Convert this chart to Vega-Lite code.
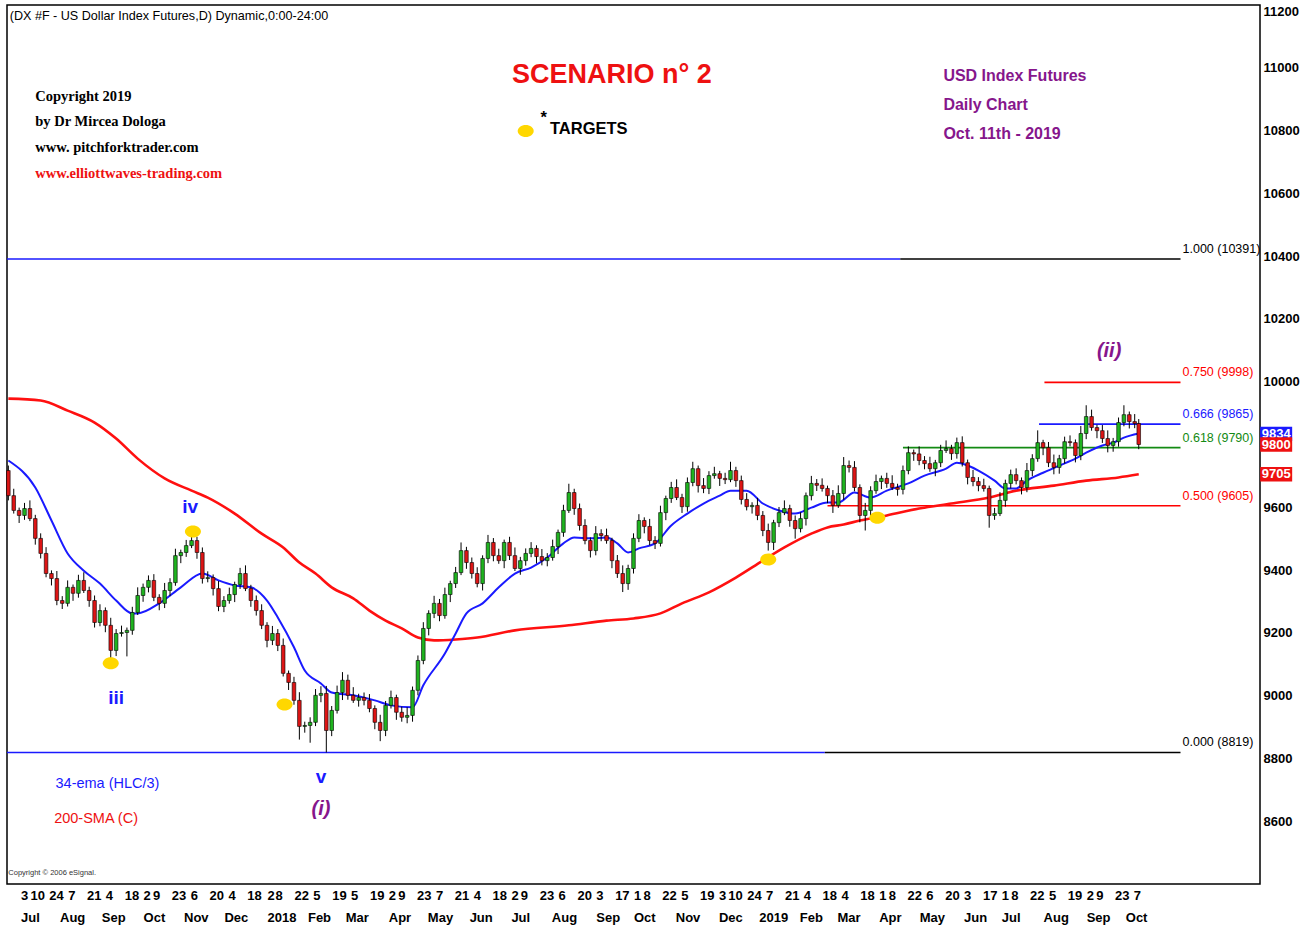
{
"$schema": "https://vega.github.io/schema/vega-lite/v6.json",
"width": 1253, "height": 879,
"autosize": {"type": "none"},
"padding": {"left": 7, "top": 5, "right": 48, "bottom": 47},
"background": "white",
"config": {"view": {"stroke": "black", "strokeWidth": 1.5}},
"resolve": {"axis": {"x": "independent", "y": "independent"}},
"datasets": {
"candles": [
{"t":"2017-06-24","o":9717,"h":9733,"l":9622,"c":9637},
{"t":"2017-06-28","o":9637,"h":9659,"l":9580,"c":9590},
{"t":"2017-07-02","o":9590,"h":9599,"l":9550,"c":9574},
{"t":"2017-07-06","o":9574,"h":9614,"l":9560,"c":9596},
{"t":"2017-07-10","o":9596,"h":9622,"l":9556,"c":9564},
{"t":"2017-07-14","o":9564,"h":9576,"l":9481,"c":9501},
{"t":"2017-07-18","o":9501,"h":9517,"l":9437,"c":9453},
{"t":"2017-07-22","o":9453,"h":9473,"l":9377,"c":9389},
{"t":"2017-07-26","o":9389,"h":9399,"l":9351,"c":9373},
{"t":"2017-07-30","o":9373,"h":9397,"l":9288,"c":9303},
{"t":"2017-08-03","o":9303,"h":9317,"l":9276,"c":9294},
{"t":"2017-08-07","o":9294,"h":9367,"l":9284,"c":9345},
{"t":"2017-08-11","o":9345,"h":9354,"l":9302,"c":9326},
{"t":"2017-08-15","o":9326,"h":9385,"l":9312,"c":9367},
{"t":"2017-08-19","o":9367,"h":9393,"l":9327,"c":9335},
{"t":"2017-08-23","o":9335,"h":9347,"l":9283,"c":9303},
{"t":"2017-08-27","o":9303,"h":9319,"l":9217,"c":9233},
{"t":"2017-08-31","o":9233,"h":9291,"l":9221,"c":9271},
{"t":"2017-09-04","o":9271,"h":9281,"l":9202,"c":9224},
{"t":"2017-09-08","o":9224,"h":9248,"l":9105,"c":9144},
{"t":"2017-09-12","o":9144,"h":9212,"l":9126,"c":9198},
{"t":"2017-09-16","o":9198,"h":9223,"l":9188,"c":9201},
{"t":"2017-09-20","o":9201,"h":9217,"l":9125,"c":9208},
{"t":"2017-09-24","o":9208,"h":9283,"l":9194,"c":9265},
{"t":"2017-09-28","o":9265,"h":9345,"l":9257,"c":9319},
{"t":"2017-10-02","o":9319,"h":9357,"l":9299,"c":9345},
{"t":"2017-10-06","o":9345,"h":9383,"l":9329,"c":9367},
{"t":"2017-10-10","o":9367,"h":9387,"l":9301,"c":9313},
{"t":"2017-10-14","o":9313,"h":9323,"l":9272,"c":9294},
{"t":"2017-10-18","o":9294,"h":9359,"l":9279,"c":9335},
{"t":"2017-10-22","o":9335,"h":9374,"l":9317,"c":9360},
{"t":"2017-10-26","o":9360,"h":9468,"l":9350,"c":9446},
{"t":"2017-10-30","o":9446,"h":9465,"l":9422,"c":9456},
{"t":"2017-11-03","o":9456,"h":9496,"l":9442,"c":9478},
{"t":"2017-11-07","o":9478,"h":9515,"l":9470,"c":9494},
{"t":"2017-11-11","o":9494,"h":9506,"l":9436,"c":9456},
{"t":"2017-11-15","o":9456,"h":9472,"l":9357,"c":9373},
{"t":"2017-11-19","o":9373,"h":9396,"l":9361,"c":9376},
{"t":"2017-11-23","o":9376,"h":9386,"l":9319,"c":9341},
{"t":"2017-11-27","o":9341,"h":9365,"l":9269,"c":9284},
{"t":"2017-12-01","o":9284,"h":9317,"l":9266,"c":9303},
{"t":"2017-12-05","o":9303,"h":9344,"l":9293,"c":9322},
{"t":"2017-12-09","o":9322,"h":9363,"l":9298,"c":9354},
{"t":"2017-12-13","o":9354,"h":9407,"l":9340,"c":9389},
{"t":"2017-12-17","o":9389,"h":9415,"l":9333,"c":9341},
{"t":"2017-12-21","o":9341,"h":9353,"l":9283,"c":9303},
{"t":"2017-12-25","o":9303,"h":9319,"l":9255,"c":9271},
{"t":"2017-12-29","o":9271,"h":9291,"l":9212,"c":9224},
{"t":"2018-01-02","o":9224,"h":9234,"l":9154,"c":9176},
{"t":"2018-01-06","o":9176,"h":9222,"l":9161,"c":9198},
{"t":"2018-01-10","o":9198,"h":9212,"l":9142,"c":9160},
{"t":"2018-01-14","o":9160,"h":9182,"l":9061,"c":9071},
{"t":"2018-01-18","o":9071,"h":9080,"l":9018,"c":9042},
{"t":"2018-01-22","o":9042,"h":9060,"l":8971,"c":8985},
{"t":"2018-01-26","o":8985,"h":9011,"l":8860,"c":8902},
{"t":"2018-01-30","o":8902,"h":8917,"l":8882,"c":8905},
{"t":"2018-02-03","o":8905,"h":8931,"l":8850,"c":8915},
{"t":"2018-02-07","o":8915,"h":9021,"l":8903,"c":9001},
{"t":"2018-02-11","o":9001,"h":9030,"l":8979,"c":9007},
{"t":"2018-02-15","o":9007,"h":9031,"l":8819,"c":8889},
{"t":"2018-02-19","o":8889,"h":8967,"l":8871,"c":8953},
{"t":"2018-02-23","o":8953,"h":9032,"l":8943,"c":9010},
{"t":"2018-02-27","o":9010,"h":9075,"l":8986,"c":9049},
{"t":"2018-03-03","o":9049,"h":9067,"l":8987,"c":9001},
{"t":"2018-03-07","o":9001,"h":9027,"l":8977,"c":8985},
{"t":"2018-03-11","o":8985,"h":9006,"l":8965,"c":8994},
{"t":"2018-03-15","o":8994,"h":9010,"l":8969,"c":8985},
{"t":"2018-03-19","o":8985,"h":9005,"l":8947,"c":8959},
{"t":"2018-03-23","o":8959,"h":8969,"l":8893,"c":8915},
{"t":"2018-03-27","o":8915,"h":8939,"l":8855,"c":8889},
{"t":"2018-03-31","o":8889,"h":8983,"l":8871,"c":8969},
{"t":"2018-04-04","o":8969,"h":9016,"l":8959,"c":8994},
{"t":"2018-04-08","o":8994,"h":9003,"l":8923,"c":8947},
{"t":"2018-04-12","o":8947,"h":8965,"l":8917,"c":8931},
{"t":"2018-04-16","o":8931,"h":8963,"l":8912,"c":8937},
{"t":"2018-04-20","o":8937,"h":9029,"l":8917,"c":9017},
{"t":"2018-04-24","o":9017,"h":9128,"l":9001,"c":9112},
{"t":"2018-04-28","o":9112,"h":9234,"l":9100,"c":9214},
{"t":"2018-05-02","o":9214,"h":9272,"l":9192,"c":9262},
{"t":"2018-05-06","o":9262,"h":9318,"l":9247,"c":9294},
{"t":"2018-05-10","o":9294,"h":9308,"l":9237,"c":9255},
{"t":"2018-05-14","o":9255,"h":9344,"l":9245,"c":9322},
{"t":"2018-05-18","o":9322,"h":9366,"l":9298,"c":9357},
{"t":"2018-05-22","o":9357,"h":9410,"l":9343,"c":9392},
{"t":"2018-05-26","o":9392,"h":9488,"l":9384,"c":9462},
{"t":"2018-05-30","o":9462,"h":9474,"l":9404,"c":9424},
{"t":"2018-06-03","o":9424,"h":9440,"l":9373,"c":9389},
{"t":"2018-06-07","o":9389,"h":9409,"l":9345,"c":9357},
{"t":"2018-06-11","o":9357,"h":9447,"l":9335,"c":9437},
{"t":"2018-06-15","o":9437,"h":9512,"l":9422,"c":9488},
{"t":"2018-06-19","o":9488,"h":9502,"l":9428,"c":9446},
{"t":"2018-06-23","o":9446,"h":9468,"l":9420,"c":9430},
{"t":"2018-06-27","o":9430,"h":9497,"l":9406,"c":9488},
{"t":"2018-07-01","o":9488,"h":9506,"l":9432,"c":9446},
{"t":"2018-07-05","o":9446,"h":9472,"l":9397,"c":9405},
{"t":"2018-07-09","o":9405,"h":9442,"l":9385,"c":9430},
{"t":"2018-07-13","o":9430,"h":9469,"l":9414,"c":9453},
{"t":"2018-07-17","o":9453,"h":9489,"l":9441,"c":9469},
{"t":"2018-07-21","o":9469,"h":9479,"l":9421,"c":9443},
{"t":"2018-07-25","o":9443,"h":9467,"l":9415,"c":9430},
{"t":"2018-07-29","o":9430,"h":9454,"l":9412,"c":9440},
{"t":"2018-08-02","o":9440,"h":9497,"l":9430,"c":9475},
{"t":"2018-08-06","o":9475,"h":9529,"l":9451,"c":9520},
{"t":"2018-08-10","o":9520,"h":9608,"l":9506,"c":9590},
{"t":"2018-08-14","o":9590,"h":9675,"l":9582,"c":9647},
{"t":"2018-08-18","o":9647,"h":9659,"l":9576,"c":9596},
{"t":"2018-08-22","o":9596,"h":9612,"l":9526,"c":9542},
{"t":"2018-08-26","o":9542,"h":9562,"l":9482,"c":9494},
{"t":"2018-08-30","o":9494,"h":9504,"l":9440,"c":9462},
{"t":"2018-09-03","o":9462,"h":9540,"l":9447,"c":9516},
{"t":"2018-09-07","o":9516,"h":9530,"l":9492,"c":9510},
{"t":"2018-09-11","o":9510,"h":9532,"l":9484,"c":9494},
{"t":"2018-09-15","o":9494,"h":9503,"l":9406,"c":9430},
{"t":"2018-09-19","o":9430,"h":9448,"l":9375,"c":9389},
{"t":"2018-09-23","o":9389,"h":9415,"l":9330,"c":9357},
{"t":"2018-09-27","o":9357,"h":9417,"l":9337,"c":9405},
{"t":"2018-10-01","o":9405,"h":9517,"l":9389,"c":9501},
{"t":"2018-10-05","o":9501,"h":9578,"l":9489,"c":9558},
{"t":"2018-10-09","o":9558,"h":9568,"l":9517,"c":9539},
{"t":"2018-10-13","o":9539,"h":9563,"l":9479,"c":9494},
{"t":"2018-10-17","o":9494,"h":9508,"l":9467,"c":9485},
{"t":"2018-10-21","o":9485,"h":9605,"l":9475,"c":9583},
{"t":"2018-10-25","o":9583,"h":9637,"l":9559,"c":9628},
{"t":"2018-10-29","o":9628,"h":9681,"l":9614,"c":9663},
{"t":"2018-11-02","o":9663,"h":9689,"l":9623,"c":9631},
{"t":"2018-11-06","o":9631,"h":9643,"l":9582,"c":9602},
{"t":"2018-11-10","o":9602,"h":9695,"l":9586,"c":9679},
{"t":"2018-11-14","o":9679,"h":9745,"l":9667,"c":9723},
{"t":"2018-11-18","o":9723,"h":9733,"l":9647,"c":9669},
{"t":"2018-11-22","o":9669,"h":9693,"l":9645,"c":9660},
{"t":"2018-11-26","o":9660,"h":9715,"l":9642,"c":9701},
{"t":"2018-11-30","o":9701,"h":9729,"l":9691,"c":9707},
{"t":"2018-12-04","o":9707,"h":9716,"l":9668,"c":9692},
{"t":"2018-12-08","o":9692,"h":9710,"l":9674,"c":9688},
{"t":"2018-12-12","o":9688,"h":9745,"l":9680,"c":9717},
{"t":"2018-12-16","o":9717,"h":9729,"l":9665,"c":9685},
{"t":"2018-12-20","o":9685,"h":9701,"l":9609,"c":9625},
{"t":"2018-12-24","o":9625,"h":9645,"l":9590,"c":9602},
{"t":"2018-12-28","o":9602,"h":9616,"l":9580,"c":9606},
{"t":"2019-01-01","o":9606,"h":9630,"l":9559,"c":9574},
{"t":"2019-01-05","o":9574,"h":9588,"l":9508,"c":9526},
{"t":"2019-01-09","o":9526,"h":9548,"l":9462,"c":9488},
{"t":"2019-01-13","o":9488,"h":9560,"l":9464,"c":9551},
{"t":"2019-01-17","o":9551,"h":9601,"l":9537,"c":9583},
{"t":"2019-01-21","o":9583,"h":9622,"l":9575,"c":9596},
{"t":"2019-01-25","o":9596,"h":9608,"l":9538,"c":9558},
{"t":"2019-01-29","o":9558,"h":9574,"l":9500,"c":9532},
{"t":"2019-02-02","o":9532,"h":9584,"l":9520,"c":9564},
{"t":"2019-02-06","o":9564,"h":9647,"l":9542,"c":9637},
{"t":"2019-02-10","o":9637,"h":9700,"l":9622,"c":9676},
{"t":"2019-02-14","o":9676,"h":9690,"l":9652,"c":9670},
{"t":"2019-02-18","o":9670,"h":9692,"l":9650,"c":9660},
{"t":"2019-02-22","o":9660,"h":9669,"l":9613,"c":9637},
{"t":"2019-02-26","o":9637,"h":9655,"l":9582,"c":9606},
{"t":"2019-03-02","o":9606,"h":9670,"l":9598,"c":9644},
{"t":"2019-03-06","o":9644,"h":9760,"l":9624,"c":9733},
{"t":"2019-03-10","o":9733,"h":9749,"l":9711,"c":9727},
{"t":"2019-03-14","o":9727,"h":9747,"l":9651,"c":9663},
{"t":"2019-03-18","o":9663,"h":9673,"l":9552,"c":9574},
{"t":"2019-03-22","o":9574,"h":9614,"l":9526,"c":9590},
{"t":"2019-03-26","o":9590,"h":9667,"l":9572,"c":9653},
{"t":"2019-03-30","o":9653,"h":9704,"l":9643,"c":9682},
{"t":"2019-04-03","o":9682,"h":9701,"l":9658,"c":9692},
{"t":"2019-04-07","o":9692,"h":9710,"l":9662,"c":9676},
{"t":"2019-04-11","o":9676,"h":9702,"l":9655,"c":9663},
{"t":"2019-04-15","o":9663,"h":9675,"l":9637,"c":9657},
{"t":"2019-04-19","o":9657,"h":9733,"l":9641,"c":9717},
{"t":"2019-04-23","o":9717,"h":9794,"l":9705,"c":9774},
{"t":"2019-04-27","o":9774,"h":9784,"l":9748,"c":9770},
{"t":"2019-05-01","o":9770,"h":9794,"l":9734,"c":9749},
{"t":"2019-05-05","o":9749,"h":9763,"l":9721,"c":9739},
{"t":"2019-05-09","o":9739,"h":9761,"l":9713,"c":9723},
{"t":"2019-05-13","o":9723,"h":9751,"l":9699,"c":9742},
{"t":"2019-05-17","o":9742,"h":9799,"l":9728,"c":9781},
{"t":"2019-05-21","o":9781,"h":9813,"l":9773,"c":9787},
{"t":"2019-05-25","o":9787,"h":9799,"l":9751,"c":9771},
{"t":"2019-05-29","o":9771,"h":9822,"l":9755,"c":9806},
{"t":"2019-06-02","o":9806,"h":9826,"l":9730,"c":9742},
{"t":"2019-06-06","o":9742,"h":9752,"l":9673,"c":9695},
{"t":"2019-06-10","o":9695,"h":9719,"l":9667,"c":9682},
{"t":"2019-06-14","o":9682,"h":9696,"l":9651,"c":9669},
{"t":"2019-06-18","o":9669,"h":9691,"l":9650,"c":9660},
{"t":"2019-06-22","o":9660,"h":9669,"l":9535,"c":9574},
{"t":"2019-06-26","o":9574,"h":9598,"l":9560,"c":9580},
{"t":"2019-06-30","o":9580,"h":9648,"l":9572,"c":9622},
{"t":"2019-07-04","o":9622,"h":9688,"l":9602,"c":9676},
{"t":"2019-07-08","o":9676,"h":9720,"l":9660,"c":9704},
{"t":"2019-07-12","o":9704,"h":9724,"l":9673,"c":9685},
{"t":"2019-07-16","o":9685,"h":9695,"l":9641,"c":9663},
{"t":"2019-07-20","o":9663,"h":9741,"l":9648,"c":9717},
{"t":"2019-07-24","o":9717,"h":9769,"l":9699,"c":9755},
{"t":"2019-07-28","o":9755,"h":9845,"l":9745,"c":9806},
{"t":"2019-08-01","o":9806,"h":9815,"l":9766,"c":9790},
{"t":"2019-08-05","o":9790,"h":9808,"l":9728,"c":9742},
{"t":"2019-08-09","o":9742,"h":9768,"l":9705,"c":9727},
{"t":"2019-08-13","o":9727,"h":9767,"l":9707,"c":9755},
{"t":"2019-08-17","o":9755,"h":9825,"l":9739,"c":9809},
{"t":"2019-08-21","o":9809,"h":9829,"l":9794,"c":9806},
{"t":"2019-08-25","o":9806,"h":9816,"l":9743,"c":9765},
{"t":"2019-08-29","o":9765,"h":9859,"l":9750,"c":9835},
{"t":"2019-09-02","o":9835,"h":9925,"l":9817,"c":9889},
{"t":"2019-09-06","o":9889,"h":9911,"l":9844,"c":9854},
{"t":"2019-09-10","o":9854,"h":9863,"l":9820,"c":9844},
{"t":"2019-09-14","o":9844,"h":9862,"l":9805,"c":9819},
{"t":"2019-09-18","o":9819,"h":9845,"l":9775,"c":9797},
{"t":"2019-09-22","o":9797,"h":9821,"l":9777,"c":9809},
{"t":"2019-09-26","o":9809,"h":9886,"l":9793,"c":9870},
{"t":"2019-09-30","o":9870,"h":9925,"l":9858,"c":9895},
{"t":"2019-10-04","o":9895,"h":9905,"l":9851,"c":9873},
{"t":"2019-10-08","o":9873,"h":9897,"l":9852,"c":9867},
{"t":"2019-10-11","o":9867,"h":9881,"l":9785,"c":9800}
]
},
"layer": [
{
"data": {"values": [
{"a":"2017-06-23","b":"2019-04-17","p":10391,"k":"base"},
{"a":"2019-04-17","b":"2019-11-11","p":10391,"k":"level"},
{"a":"2017-06-23","b":"2019-02-20","p":8819,"k":"base"},
{"a":"2019-02-20","b":"2019-11-11","p":8819,"k":"level"},
{"a":"2019-08-02","b":"2019-11-11","p":9998,"k":"0.750"},
{"a":"2019-07-29","b":"2019-11-11","p":9865,"k":"0.666"},
{"a":"2019-04-19","b":"2019-11-11","p":9790,"k":"0.618"},
{"a":"2019-02-22","b":"2019-11-11","p":9605,"k":"0.500"}
]},
"mark": {"type": "rule", "strokeWidth": 1.6},
"encoding": {
"x": {"field": "a", "type": "temporal", "axis": null, "scale": {"type": "utc", "padding": 0, "domain": [{"year":2017,"month":6,"date":23,"utc":true},{"year":2020,"month":1,"date":9,"utc":true}]}},
"x2": {"field": "b"},
"y": {"field": "p", "type": "quantitative", "axis": null, "scale": {"domain": [8400, 11200], "nice": false, "zero": false, "padding": 0}},
"color": {"field": "k", "type": "nominal", "legend": null, "scale": {"domain": ["base","level","0.750","0.666","0.618","0.500","ema","close","sma"], "range": ["#1a1aff","#000000","#ff0000","#1a1aff","#138a13","#ff0000","#1a1aff","#ee1111","#ee1111"]}}
}
},
{
"data": {"values": [
{"p":10391,"s":"1.000 (10391)","k":"level"},
{"p":9998,"s":"0.750 (9998)","k":"0.750"},
{"p":9865,"s":"0.666 (9865)","k":"0.666"},
{"p":9790,"s":"0.618 (9790)","k":"0.618"},
{"p":9605,"s":"0.500 (9605)","k":"0.500"},
{"p":8819,"s":"0.000 (8819)","k":"level"}
]},
"mark": {"type": "text", "align": "left", "baseline": "bottom", "dy": -3, "dx": 2, "font": "Liberation Sans", "fontSize": 12.5},
"encoding": {
"x": {"datum": {"year":2019,"month":11,"date":11,"utc":true}, "type": "temporal", "axis": null},
"y": {"field": "p", "type": "quantitative", "axis": null},
"text": {"field": "s"},
"color": {"field": "k", "type": "nominal", "legend": null, "scale": {"domain": ["base","level","0.750","0.666","0.618","0.500","ema","close","sma"], "range": ["#1a1aff","#000000","#ff0000","#1a1aff","#138a13","#ff0000","#1a1aff","#ee1111","#ee1111"]}}
}
},
{
"data": {"values": [
{"t":"2017-06-24","v":9946},{"t":"2017-07-18","v":9940},{"t":"2017-08-07","v":9908},{"t":"2017-08-27","v":9870},{"t":"2017-09-12","v":9819},{"t":"2017-09-28","v":9755},{"t":"2017-10-18","v":9692},{"t":"2017-11-07","v":9653},{"t":"2017-11-19","v":9631},{"t":"2017-12-09","v":9580},{"t":"2017-12-29","v":9516},{"t":"2018-01-14","v":9472},{"t":"2018-01-26","v":9424},{"t":"2018-02-07","v":9389},{"t":"2018-02-19","v":9345},{"t":"2018-03-07","v":9310},{"t":"2018-03-19","v":9271},{"t":"2018-03-31","v":9239},{"t":"2018-04-12","v":9214},{"t":"2018-04-24","v":9185},{"t":"2018-05-06","v":9176},{"t":"2018-05-22","v":9179},{"t":"2018-06-07","v":9185},{"t":"2018-07-05","v":9208},{"t":"2018-08-14","v":9224},{"t":"2018-09-11","v":9239},{"t":"2018-10-01","v":9246},{"t":"2018-10-21","v":9262},{"t":"2018-11-06","v":9294},{"t":"2018-11-26","v":9329},{"t":"2018-12-16","v":9376},{"t":"2019-01-05","v":9430},{"t":"2019-01-21","v":9472},{"t":"2019-02-10","v":9516},{"t":"2019-02-22","v":9536},{"t":"2019-03-06","v":9545},{"t":"2019-03-18","v":9558},{"t":"2019-04-07","v":9574},{"t":"2019-05-01","v":9596},{"t":"2019-05-25","v":9612},{"t":"2019-06-22","v":9631},{"t":"2019-07-12","v":9653},{"t":"2019-08-09","v":9669},{"t":"2019-09-02","v":9685},{"t":"2019-09-26","v":9695},{"t":"2019-10-11","v":9705}
]},
"mark": {"type": "line", "color": "#ff1010", "strokeWidth": 2.6, "interpolate": "monotone"},
"encoding": {
"x": {"field": "t", "type": "temporal", "axis": null},
"y": {"field": "v", "type": "quantitative", "axis": null}
}
},
{
"data": {"values": [
{"t":"2017-06-24","v":9749},{"t":"2017-07-14","v":9663},{"t":"2017-07-26","v":9558},{"t":"2017-08-07","v":9453},{"t":"2017-08-19","v":9398},{"t":"2017-08-31","v":9357},{"t":"2017-09-12","v":9303},{"t":"2017-09-24","v":9262},{"t":"2017-09-28","v":9262},{"t":"2017-10-14","v":9294},{"t":"2017-10-30","v":9345},{"t":"2017-11-15","v":9389},{"t":"2017-11-27","v":9367},{"t":"2017-12-09","v":9351},{"t":"2017-12-21","v":9345},{"t":"2018-01-02","v":9303},{"t":"2018-01-10","v":9249},{"t":"2018-01-22","v":9154},{"t":"2018-01-30","v":9080},{"t":"2018-02-11","v":9039},{"t":"2018-02-19","v":9010},{"t":"2018-03-07","v":9001},{"t":"2018-03-23","v":8985},{"t":"2018-04-04","v":8969},{"t":"2018-04-20","v":8963},{"t":"2018-04-28","v":9033},{"t":"2018-05-14","v":9134},{"t":"2018-05-22","v":9198},{"t":"2018-05-30","v":9262},{"t":"2018-06-11","v":9294},{"t":"2018-06-23","v":9345},{"t":"2018-07-05","v":9389},{"t":"2018-07-17","v":9408},{"t":"2018-07-29","v":9440},{"t":"2018-08-10","v":9485},{"t":"2018-08-18","v":9504},{"t":"2018-08-30","v":9501},{"t":"2018-09-11","v":9504},{"t":"2018-09-19","v":9485},{"t":"2018-09-27","v":9456},{"t":"2018-10-05","v":9469},{"t":"2018-10-17","v":9485},{"t":"2018-10-29","v":9542},{"t":"2018-11-10","v":9580},{"t":"2018-11-22","v":9612},{"t":"2018-12-04","v":9637},{"t":"2018-12-12","v":9653},{"t":"2018-12-24","v":9653},{"t":"2019-01-05","v":9612},{"t":"2019-01-17","v":9590},{"t":"2019-01-29","v":9580},{"t":"2019-02-10","v":9599},{"t":"2019-02-22","v":9615},{"t":"2019-03-02","v":9615},{"t":"2019-03-14","v":9647},{"t":"2019-03-26","v":9631},{"t":"2019-04-07","v":9653},{"t":"2019-04-23","v":9676},{"t":"2019-05-05","v":9701},{"t":"2019-05-21","v":9723},{"t":"2019-05-29","v":9742},{"t":"2019-06-06","v":9733},{"t":"2019-06-14","v":9717},{"t":"2019-06-26","v":9685},{"t":"2019-07-04","v":9660},{"t":"2019-07-12","v":9660},{"t":"2019-07-20","v":9685},{"t":"2019-08-01","v":9710},{"t":"2019-08-13","v":9733},{"t":"2019-08-25","v":9755},{"t":"2019-09-02","v":9774},{"t":"2019-09-14","v":9797},{"t":"2019-09-22","v":9806},{"t":"2019-09-30","v":9822},{"t":"2019-10-11","v":9835}
]},
"mark": {"type": "line", "color": "#1a1aff", "strokeWidth": 2, "interpolate": "monotone"},
"encoding": {
"x": {"field": "t", "type": "temporal", "axis": null},
"y": {"field": "v", "type": "quantitative", "axis": null}
}
},
{
"data": {"name": "candles"},
"mark": {"type": "rule", "color": "black", "strokeWidth": 1},
"encoding": {
"x": {"field": "t", "type": "temporal", "axis": {"orient": "bottom", "title": null, "format": "%-d", "ticks": false, "domain": false, "grid": false, "labelAlign": "left", "labelBaseline": "top", "labelPadding": 5, "labelFont": "Liberation Sans", "labelFontWeight": "bold", "labelFontSize": 13, "labelColor": "black", "labelOverlap": false, "labelFlush": false, "labelBound": false,
"values": [{"year":2017,"month":7,"date":3,"utc":true},{"year":2017,"month":7,"date":10,"utc":true},{"year":2017,"month":7,"date":24,"utc":true},{"year":2017,"month":8,"date":7,"utc":true},{"year":2017,"month":8,"date":21,"utc":true},{"year":2017,"month":9,"date":4,"utc":true},{"year":2017,"month":9,"date":18,"utc":true},{"year":2017,"month":10,"date":2,"utc":true},{"year":2017,"month":10,"date":9,"utc":true},{"year":2017,"month":10,"date":23,"utc":true},{"year":2017,"month":11,"date":6,"utc":true},{"year":2017,"month":11,"date":20,"utc":true},{"year":2017,"month":12,"date":4,"utc":true},{"year":2017,"month":12,"date":18,"utc":true},
{"year":2018,"month":1,"date":2,"utc":true},{"year":2018,"month":1,"date":8,"utc":true},{"year":2018,"month":1,"date":22,"utc":true},{"year":2018,"month":2,"date":5,"utc":true},{"year":2018,"month":2,"date":19,"utc":true},{"year":2018,"month":3,"date":5,"utc":true},{"year":2018,"month":3,"date":19,"utc":true},{"year":2018,"month":4,"date":2,"utc":true},{"year":2018,"month":4,"date":9,"utc":true},{"year":2018,"month":4,"date":23,"utc":true},{"year":2018,"month":5,"date":7,"utc":true},{"year":2018,"month":5,"date":21,"utc":true},{"year":2018,"month":6,"date":4,"utc":true},{"year":2018,"month":6,"date":18,"utc":true},{"year":2018,"month":7,"date":2,"utc":true},{"year":2018,"month":7,"date":9,"utc":true},{"year":2018,"month":7,"date":23,"utc":true},{"year":2018,"month":8,"date":6,"utc":true},{"year":2018,"month":8,"date":20,"utc":true},{"year":2018,"month":9,"date":3,"utc":true},{"year":2018,"month":9,"date":17,"utc":true},{"year":2018,"month":10,"date":1,"utc":true},{"year":2018,"month":10,"date":8,"utc":true},{"year":2018,"month":10,"date":22,"utc":true},{"year":2018,"month":11,"date":5,"utc":true},{"year":2018,"month":11,"date":19,"utc":true},{"year":2018,"month":12,"date":3,"utc":true},{"year":2018,"month":12,"date":10,"utc":true},{"year":2018,"month":12,"date":24,"utc":true},
{"year":2019,"month":1,"date":7,"utc":true},{"year":2019,"month":1,"date":21,"utc":true},{"year":2019,"month":2,"date":4,"utc":true},{"year":2019,"month":2,"date":18,"utc":true},{"year":2019,"month":3,"date":4,"utc":true},{"year":2019,"month":3,"date":18,"utc":true},{"year":2019,"month":4,"date":1,"utc":true},{"year":2019,"month":4,"date":8,"utc":true},{"year":2019,"month":4,"date":22,"utc":true},{"year":2019,"month":5,"date":6,"utc":true},{"year":2019,"month":5,"date":20,"utc":true},{"year":2019,"month":6,"date":3,"utc":true},{"year":2019,"month":6,"date":17,"utc":true},{"year":2019,"month":7,"date":1,"utc":true},{"year":2019,"month":7,"date":8,"utc":true},{"year":2019,"month":7,"date":22,"utc":true},{"year":2019,"month":8,"date":5,"utc":true},{"year":2019,"month":8,"date":19,"utc":true},{"year":2019,"month":9,"date":2,"utc":true},{"year":2019,"month":9,"date":9,"utc":true},{"year":2019,"month":9,"date":23,"utc":true},{"year":2019,"month":10,"date":7,"utc":true}]}},
"y": {"field": "l", "type": "quantitative", "axis": {"orient": "right", "title": null, "values": [8600,8800,9000,9200,9400,9600,10000,10200,10400,10600,10800,11000,11200], "format": "d", "ticks": false, "domain": false, "grid": false, "labelAlign": "left", "labelPadding": 3, "labelFont": "Liberation Sans", "labelFontWeight": "bold", "labelFontSize": 13, "labelColor": "black", "labelFlush": true, "labelOverlap": false}},
"y2": {"field": "h"}
}
},
{
"data": {"name": "candles"},
"mark": {"type": "bar", "width": 3.6, "stroke": "black", "strokeWidth": 0.6},
"encoding": {
"x": {"field": "t", "type": "temporal", "axis": {"orient": "bottom", "offset": 22, "title": null, "ticks": false, "domain": false, "grid": false, "labelAlign": "left", "labelBaseline": "top", "labelPadding": 5, "labelFont": "Liberation Sans", "labelFontWeight": "bold", "labelFontSize": 13, "labelColor": "black", "labelOverlap": false, "labelFlush": false, "labelBound": false,
"labelExpr": "utcmonth(datum.value) == 0 ? utcFormat(datum.value, '%Y') : utcFormat(datum.value, '%b')",
"values": [{"year":2017,"month":7,"date":3,"utc":true},{"year":2017,"month":8,"date":1,"utc":true},{"year":2017,"month":9,"date":1,"utc":true},{"year":2017,"month":10,"date":2,"utc":true},{"year":2017,"month":11,"date":1,"utc":true},{"year":2017,"month":12,"date":1,"utc":true},{"year":2018,"month":1,"date":2,"utc":true},{"year":2018,"month":2,"date":1,"utc":true},{"year":2018,"month":3,"date":1,"utc":true},{"year":2018,"month":4,"date":2,"utc":true},{"year":2018,"month":5,"date":1,"utc":true},{"year":2018,"month":6,"date":1,"utc":true},{"year":2018,"month":7,"date":2,"utc":true},{"year":2018,"month":8,"date":1,"utc":true},{"year":2018,"month":9,"date":3,"utc":true},{"year":2018,"month":10,"date":1,"utc":true},{"year":2018,"month":11,"date":1,"utc":true},{"year":2018,"month":12,"date":3,"utc":true},{"year":2019,"month":1,"date":2,"utc":true},{"year":2019,"month":2,"date":1,"utc":true},{"year":2019,"month":3,"date":1,"utc":true},{"year":2019,"month":4,"date":1,"utc":true},{"year":2019,"month":5,"date":1,"utc":true},{"year":2019,"month":6,"date":3,"utc":true},{"year":2019,"month":7,"date":1,"utc":true},{"year":2019,"month":8,"date":1,"utc":true},{"year":2019,"month":9,"date":2,"utc":true},{"year":2019,"month":10,"date":1,"utc":true}]}},
"y": {"field": "o", "type": "quantitative", "axis": null},
"y2": {"field": "c"},
"fill": {"condition": {"test": "datum.c > datum.o", "value": "#1fb31f"}, "value": "#dd1515"}
}
},
{
"data": {"values": [
{"t":"2017-09-08","p":9103},{"t":"2017-11-08","p":9523},{"t":"2018-01-15","p":8972},{"t":"2019-01-09","p":9434},{"t":"2019-03-31","p":9567},{"t":"2018-07-13","p":10799}
]},
"mark": {"type": "point", "shape": "M-1,0A1,0.75 0 1,0 1,0A1,0.75 0 1,0 -1,0Z", "size": 256, "filled": true, "fill": "#ffd700", "opacity": 1, "strokeWidth": 0},
"encoding": {
"x": {"field": "t", "type": "temporal", "axis": null},
"y": {"field": "p", "type": "quantitative", "axis": null}
}
},
{
"data": {"values": [{"t":"2017-06-25","p":11165,"s":"(DX #F - US Dollar Index Futures,D) Dynamic,0:00-24:00"}]},
"mark": {"type": "text", "align": "left", "baseline": "middle", "font": "Liberation Sans", "fontSize": 12.6, "fill": "black"},
"encoding": {"x": {"field": "t", "type": "temporal", "axis": null}, "y": {"field": "p", "type": "quantitative", "axis": null}, "text": {"field": "s"}}
},
{
"data": {"values": [{"t":"2017-07-14","p":10907,"s":"Copyright 2019"},{"t":"2017-07-14","p":10828,"s":"by Dr Mircea Dologa"},{"t":"2017-07-14","p":10745,"s":"www. pitchforktrader.com"}]},
"mark": {"type": "text", "align": "left", "baseline": "middle", "font": "Liberation Serif", "fontWeight": "bold", "fontSize": 14.5, "fill": "black"},
"encoding": {"x": {"field": "t", "type": "temporal", "axis": null}, "y": {"field": "p", "type": "quantitative", "axis": null}, "text": {"field": "s"}}
},
{
"data": {"values": [{"t":"2017-07-14","p":10662,"s":"www.elliottwaves-trading.com"}]},
"mark": {"type": "text", "align": "left", "baseline": "middle", "font": "Liberation Serif", "fontWeight": "bold", "fontSize": 14.5, "fill": "#ee1111"},
"encoding": {"x": {"field": "t", "type": "temporal", "axis": null}, "y": {"field": "p", "type": "quantitative", "axis": null}, "text": {"field": "s"}}
},
{
"data": {"values": [{"t":"2018-09-15","p":10977,"s":"SCENARIO n° 2"}]},
"mark": {"type": "text", "align": "center", "baseline": "middle", "font": "Liberation Sans", "fontWeight": "bold", "fontSize": 27, "fill": "#ee1111"},
"encoding": {"x": {"field": "t", "type": "temporal", "axis": null}, "y": {"field": "p", "type": "quantitative", "axis": null}, "text": {"field": "s"}}
},
{
"data": {"values": [{"t":"2018-07-31","p":10806,"s":"TARGETS"},{"t":"2018-07-24","p":10840,"s":"*"}]},
"mark": {"type": "text", "align": "left", "baseline": "middle", "font": "Liberation Sans", "fontWeight": "bold", "fontSize": 16.5, "fill": "black"},
"encoding": {"x": {"field": "t", "type": "temporal", "axis": null}, "y": {"field": "p", "type": "quantitative", "axis": null}, "text": {"field": "s"}}
},
{
"data": {"values": [{"t":"2019-05-19","p":10974,"s":"USD Index Futures"},{"t":"2019-05-19","p":10882,"s":"Daily Chart"},{"t":"2019-05-19","p":10789,"s":"Oct. 11th - 2019"}]},
"mark": {"type": "text", "align": "left", "baseline": "middle", "font": "Liberation Sans", "fontWeight": "bold", "fontSize": 16, "fill": "#86168c"},
"encoding": {"x": {"field": "t", "type": "temporal", "axis": null}, "y": {"field": "p", "type": "quantitative", "axis": null}, "text": {"field": "s"}}
},
{
"data": {"values": [{"t":"2017-11-06","p":9602,"s":"iv"},{"t":"2017-09-12","p":8991,"s":"iii"},{"t":"2018-02-11","p":8740,"s":"v"}]},
"mark": {"type": "text", "align": "center", "baseline": "middle", "font": "Liberation Sans", "fontWeight": "bold", "fontSize": 19, "fill": "#1a1aff"},
"encoding": {"x": {"field": "t", "type": "temporal", "axis": null}, "y": {"field": "p", "type": "quantitative", "axis": null}, "text": {"field": "s"}}
},
{
"data": {"values": [{"t":"2018-02-11","p":8638,"s":"(i)"},{"t":"2019-09-19","p":10099,"s":"(ii)"}]},
"mark": {"type": "text", "align": "center", "baseline": "middle", "font": "Liberation Sans", "fontWeight": "bold", "fontStyle": "italic", "fontSize": 20, "fill": "#86168c"},
"encoding": {"x": {"field": "t", "type": "temporal", "axis": null}, "y": {"field": "p", "type": "quantitative", "axis": null}, "text": {"field": "s"}}
},
{
"data": {"values": [{"t":"2017-07-29","p":8717,"s":"34-ema (HLC/3)"}]},
"mark": {"type": "text", "align": "left", "baseline": "middle", "font": "Liberation Sans", "fontSize": 14.5, "fill": "#1a1aff"},
"encoding": {"x": {"field": "t", "type": "temporal", "axis": null}, "y": {"field": "p", "type": "quantitative", "axis": null}, "text": {"field": "s"}}
},
{
"data": {"values": [{"t":"2017-07-28","p":8606,"s":"200-SMA (C)"}]},
"mark": {"type": "text", "align": "left", "baseline": "middle", "font": "Liberation Sans", "fontSize": 14.5, "fill": "#ee1111"},
"encoding": {"x": {"field": "t", "type": "temporal", "axis": null}, "y": {"field": "p", "type": "quantitative", "axis": null}, "text": {"field": "s"}}
},
{
"data": {"values": [{"t":"2017-06-24","p":8434,"s":"Copyright © 2006 eSignal."}]},
"mark": {"type": "text", "align": "left", "baseline": "middle", "font": "Liberation Sans", "fontSize": 7.5, "fill": "#333333"},
"encoding": {"x": {"field": "t", "type": "temporal", "axis": null}, "y": {"field": "p", "type": "quantitative", "axis": null}, "text": {"field": "s"}}
},
{
"data": {"values": [{"p":9834,"k":"ema"}]},
"encoding": {"x": {"datum": {"year":2020,"month":1,"date":21,"utc":true}, "type": "temporal", "axis": null}, "y": {"field": "p", "type": "quantitative", "axis": null}},
"layer": [
{"mark": {"type": "point", "shape": "M-1,-0.45H1V0.45H-1Z", "size": 1024, "filled": true, "opacity": 1, "strokeWidth": 0},
 "encoding": {"color": {"field": "k", "type": "nominal", "legend": null, "scale": {"domain": ["base","level","0.750","0.666","0.618","0.500","ema","close","sma"], "range": ["#1a1aff","#000000","#ff0000","#1a1aff","#138a13","#ff0000","#1a1aff","#ee1111","#ee1111"]}}}},
{"mark": {"type": "text", "fill": "white", "font": "Liberation Sans", "fontWeight": "bold", "fontSize": 13, "align": "center", "baseline": "middle"},
 "encoding": {"text": {"field": "p", "type": "quantitative", "format": "d"}}}
]
},
{
"data": {"values": [{"p":9800,"k":"close"},{"p":9705,"k":"sma"}]},
"encoding": {"x": {"datum": {"year":2020,"month":1,"date":21,"utc":true}, "type": "temporal", "axis": null}, "y": {"field": "p", "type": "quantitative", "axis": null}},
"layer": [
{"mark": {"type": "point", "shape": "M-1,-0.45H1V0.45H-1Z", "size": 1024, "filled": true, "opacity": 1, "strokeWidth": 0},
 "encoding": {"color": {"field": "k", "type": "nominal", "legend": null, "scale": {"domain": ["base","level","0.750","0.666","0.618","0.500","ema","close","sma"], "range": ["#1a1aff","#000000","#ff0000","#1a1aff","#138a13","#ff0000","#1a1aff","#ee1111","#ee1111"]}}}},
{"mark": {"type": "text", "fill": "white", "font": "Liberation Sans", "fontWeight": "bold", "fontSize": 13, "align": "center", "baseline": "middle"},
 "encoding": {"text": {"field": "p", "type": "quantitative", "format": "d"}}}
]
}
]
}
